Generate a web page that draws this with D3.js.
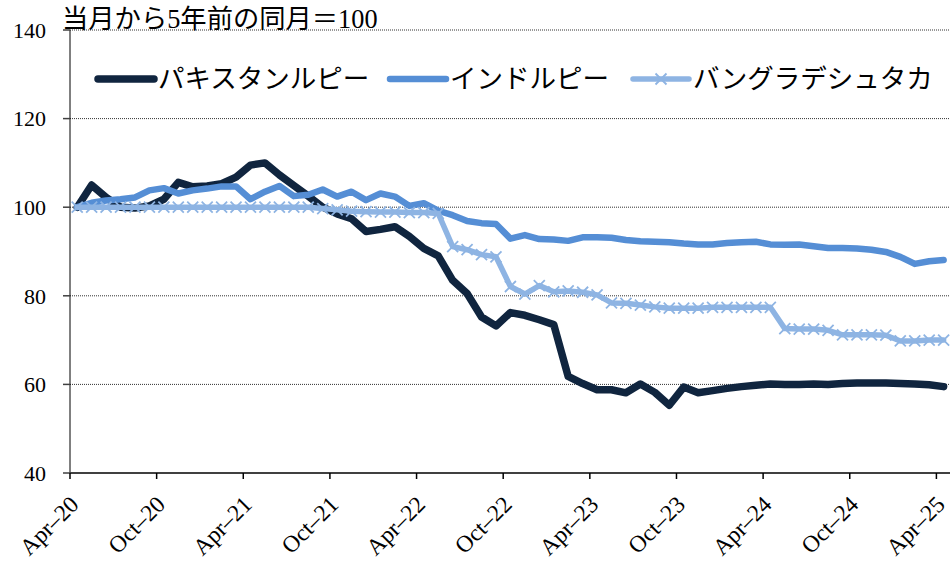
<!DOCTYPE html>
<html>
<head>
<meta charset="utf-8">
<script src="https://cdn.jsdelivr.net/npm/d3@7/dist/d3.min.js"></script>
<style>
  body { margin: 0; background: #fff; }
  text { font-family: "Liberation Serif", "Noto Sans CJK JP", serif; fill: #000; }
</style>
</head>
<body>
<script>
// monthly categories Apr-20 .. Apr-25
let months = d3.timeMonth.range(new Date(2020, 3, 1), new Date(2025, 4, 1));

let tickLabels = ["Apr–20", "Oct–20", "Apr–21", "Oct–21", "Apr–22", "Oct–22",
                  "Apr–23", "Oct–23", "Apr–24", "Oct–24", "Apr–25"];
let yTicks = [40, 60, 80, 100, 120, 140];

let seriesNames = ["パキスタンルピー", "インドルピー", "バングラデシュタカ"];

let pakistan = [
    100, 105, 102.2, 100, 99.8, 100.3, 101.8, 105.6, 104.6, 104.8,
    105.3, 106.8, 109.5, 110, 107.3, 104.9, 102.5, 100, 98.5, 97.4,
    94.5, 95.0, 95.6, 93.4, 90.7, 89.0, 83.5, 80.5, 75.2, 73.2,
    76.2, 75.6, 74.6, 73.5, 61.8, 60.2, 58.8, 58.8, 58.1, 60.1,
    58.2, 55.3, 59.4, 58.1, 58.6, 59.1, 59.5, 59.8, 60.1, 60.0,
    60.0, 60.1, 60.0, 60.2, 60.3, 60.3, 60.3, 60.2, 60.1, 59.9,
    59.5
];

let india = [
    100, 101.0, 101.5, 101.8, 102.2, 103.8, 104.3, 103.1, 103.8, 104.2,
    104.7, 104.7, 101.8, 103.5, 104.8, 102.5, 102.8, 104, 102.4, 103.5,
    101.6, 103.1, 102.4, 100.3, 100.9, 99.2, 98.2, 96.9, 96.4, 96.2,
    92.9, 93.7, 92.8, 92.7, 92.4, 93.2, 93.2, 93.1, 92.6, 92.3,
    92.2, 92.1, 91.8, 91.6, 91.6, 91.9, 92.1, 92.2, 91.6, 91.5,
    91.6, 91.2, 90.8, 90.8, 90.7, 90.4, 89.9, 88.8, 87.2, 87.8,
    88.1
];

let bangladesh = [
    100, 100, 100, 100, 100, 100, 100, 100, 100, 100,
    100, 100, 100, 100, 100, 100, 100, 99.7, 99.4, 99.1,
    99.0, 98.9, 98.9, 98.8, 98.8, 98.6, 91.1, 90.4, 89.3, 88.8,
    82.1, 80.4, 82.3, 80.9, 81.1, 80.8, 80.2, 78.4, 78.3, 77.9,
    77.5, 77.2, 77.2, 77.2, 77.4, 77.4, 77.4, 77.4, 77.4, 72.6,
    72.5, 72.5, 72.2, 71.2, 71.2, 71.2, 71.1, 69.8, 69.8, 70.0,
    70.0
];

let colors = ["#10253f", "#558ed5", "#8eb4e3"];
let widths = [7.5, 6.5, 5.5];

let width = 950,
    height = 565,
    plotLeft = 70,
    monthStep = 14.44,
    plotTop = 30,
    plotBottom = 473;

let svg = d3.select("body").append("svg")
    .attr("width", width)
    .attr("height", height);

let x = d3.scaleBand()
    .domain(months)
    .range([plotLeft, plotLeft + months.length * monthStep])
    .padding(0);

let y = d3.scaleLinear()
    .domain([40, 140])
    .range([plotBottom, plotTop]);

let cx = function(d) { return x(d) + x.bandwidth() / 2; };

// gridlines
svg.selectAll(".grid")
    .data(yTicks.slice(1))
    .enter().append("line")
    .attr("class", "grid")
    .attr("x1", plotLeft)
    .attr("x2", width)
    .attr("y1", function(d) { return y(d); })
    .attr("y2", function(d) { return y(d); })
    .attr("stroke", "#333")
    .attr("stroke-width", 1)
    .attr("stroke-dasharray", "1,1");

// y axis
svg.append("line")
    .attr("x1", plotLeft).attr("x2", plotLeft)
    .attr("y1", y(140)).attr("y2", y(40))
    .attr("stroke", "#000")
    .attr("stroke-width", 1);

svg.selectAll(".ytick")
    .data(yTicks)
    .enter().append("line")
    .attr("x1", plotLeft - 7).attr("x2", plotLeft)
    .attr("y1", function(d) { return y(d); })
    .attr("y2", function(d) { return y(d); })
    .attr("stroke", "#404040")
    .attr("stroke-width", 1.5);

svg.selectAll(".ylabel")
    .data(yTicks)
    .enter().append("text")
    .attr("x", 46)
    .attr("y", function(d) { return y(d); })
    .attr("dy", "0.35em")
    .attr("text-anchor", "end")
    .style("font-size", "22px")
    .text(function(d) { return d; });

// x axis
let tickMonths = months.filter(function(d, i) { return i % 6 === 0; });

svg.append("line")
    .attr("x1", plotLeft).attr("x2", width)
    .attr("y1", plotBottom).attr("y2", plotBottom)
    .attr("stroke", "#404040")
    .attr("stroke-width", 2);

svg.selectAll(".xtick")
    .data(tickMonths)
    .enter().append("line")
    .attr("x1", function(d) { return x(d); })
    .attr("x2", function(d) { return x(d); })
    .attr("y1", plotBottom)
    .attr("y2", plotBottom + 6)
    .attr("stroke", "#000")
    .attr("stroke-width", 1.5);

svg.selectAll(".xlabel")
    .data(tickMonths)
    .enter().append("text")
    .attr("text-anchor", "end")
    .attr("transform", function(d) { return "translate(" + (x(d) + 10) + "," + (plotBottom + 33) + ") rotate(-45)"; })
    .style("font-size", "23.5px")
    .text(function(d, i) { return tickLabels[i]; });

// series
let line = d3.line()
    .x(function(d, i) { return cx(months[i]); })
    .y(function(d) { return y(d); });

[pakistan, india, bangladesh].forEach(function(s, k) {
    svg.append("path")
        .datum(s)
        .attr("d", line)
        .attr("fill", "none")
        .attr("stroke", colors[k])
        .attr("stroke-width", widths[k])
        .attr("stroke-linejoin", "round")
        .attr("stroke-linecap", "round");
});

let cross = function(g, px, py) {
    g.append("path")
        .attr("d", "M" + (px - 5.5) + "," + (py - 5.5) + "L" + (px + 5.5) + "," + (py + 5.5)
            + "M" + (px - 5.5) + "," + (py + 5.5) + "L" + (px + 5.5) + "," + (py - 5.5))
        .attr("stroke", colors[2])
        .attr("stroke-width", 1.8)
        .attr("fill", "none");
};

let markers = svg.append("g");
bangladesh.forEach(function(d, i) { cross(markers, cx(months[i]), y(d)); });

// title
svg.append("text")
    .attr("x", 62)
    .attr("y", 28)
    .style("font-size", "26.3px")
    .text("当月から5年前の同月＝100");

// legend
let legendX = [98, 390, 633];
let legend = svg.selectAll(".legend")
    .data(seriesNames)
    .enter().append("g")
    .attr("transform", function(d, i) { return "translate(" + legendX[i] + ",79)"; });

legend.append("line")
    .attr("x1", 0).attr("x2", 56)
    .attr("stroke", function(d, i) { return colors[i]; })
    .attr("stroke-width", function(d, i) { return widths[i]; })
    .attr("stroke-linecap", "round");

legend.filter(function(d, i) { return i === 2; })
    .each(function() { cross(d3.select(this), 28, 0); });

legend.append("text")
    .attr("x", 60)
    .attr("dy", "0.35em")
    .style("font-size", "26.5px")
    .text(function(d) { return d; });
</script>
</body>
</html>
